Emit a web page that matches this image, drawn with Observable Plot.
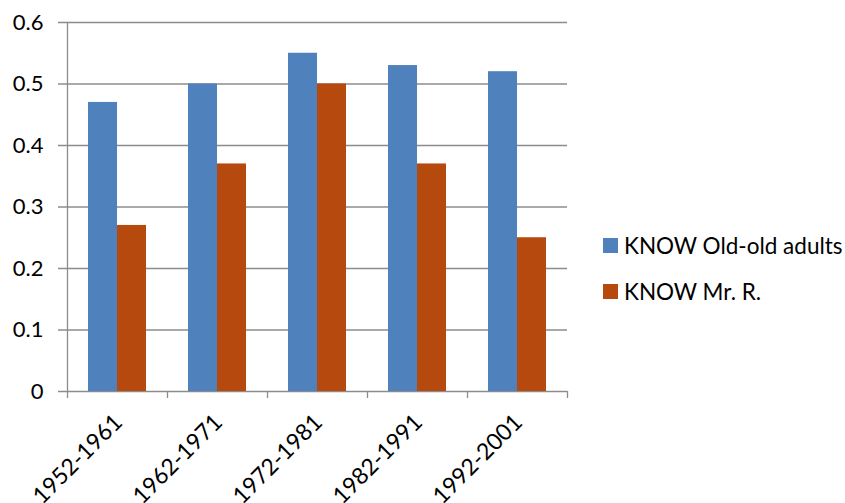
<!DOCTYPE html>
<html>
<head>
<meta charset="utf-8">
<script src="https://cdn.jsdelivr.net/npm/d3@7"></script>
<script src="https://cdn.jsdelivr.net/npm/@observablehq/plot@0.6"></script>
<style>
  body { margin: 0; background: #fff; }
  #wrap { position: relative; width: 845px; height: 503px; font-family: Lato, "Open Sans", sans-serif; }
  #legend { position: absolute; left: 603px; top: 232px; font-size: 22.5px; color: #000; }
  .item { display: flex; align-items: center; height: 26px; margin-bottom: 20px; }
  .swatch { width: 15px; height: 15px; margin-right: 6px; flex: none; }
</style>
</head>
<body>
<div id="wrap"><div id="legend"></div></div>
<script>
// Birth cohorts on the horizontal axis
const cohorts = ["1952-1961", "1962-1971", "1972-1981", "1982-1991", "1992-2001"];
// Series names and their values per cohort
const seriesNames = ["KNOW Old-old adults", "KNOW Mr. R."];
const oldOldAdults = [0.47, 0.50, 0.55, 0.53, 0.52];
const mrR = [0.27, 0.37, 0.50, 0.37, 0.25];
const yTicks = [0, 0.1, 0.2, 0.3, 0.4, 0.5, 0.6];
const colors = ["#4f81bd", "#b5490e"];

const width = 845, height = 503;
const marginLeft = 67, marginRight = 278, marginTop = 22, marginBottom = 112;
const bw = (width - marginLeft - marginRight) / cohorts.length;
const plotH = height - marginTop - marginBottom;
const pad = bw * 0.21, barW = (bw - 2 * pad) / 2;

const rows = [];
cohorts.forEach((c, i) => {
  rows.push({cohort: c, series: seriesNames[0], value: oldOldAdults[i]});
  rows.push({cohort: c, series: seriesNames[1], value: mrR[i]});
});

const grid = "#8c8c8c";
const fontSize = 22;

const chart = Plot.plot({
  width, height, marginLeft, marginRight, marginTop, marginBottom,
  style: {fontFamily: "Lato, 'Open Sans', sans-serif", background: "#fff"},
  x: {domain: cohorts, padding: 0, label: null},
  y: {domain: [0, 0.6], label: null},
  color: {domain: seriesNames, range: colors},
  marks: [
    Plot.ruleY(yTicks, {stroke: grid, strokeWidth: 1.3, insetLeft: -9}),
    Plot.ruleX([cohorts[0]], {stroke: grid, strokeWidth: 1.3, dx: -bw / 2}),
    Plot.ruleX(cohorts, {stroke: grid, strokeWidth: 1.3, dx: -bw / 2, insetTop: plotH, insetBottom: -7}),
    Plot.ruleX([cohorts[cohorts.length - 1]], {stroke: grid, strokeWidth: 1.3, dx: bw / 2, insetTop: plotH, insetBottom: -7}),
    Plot.barY(rows.filter(d => d.series === seriesNames[0]), {
      x: "cohort", y: "value", fill: "series", insetLeft: pad, insetRight: pad + barW
    }),
    Plot.barY(rows.filter(d => d.series === seriesNames[1]), {
      x: "cohort", y: "value", fill: "series", insetLeft: pad + barW, insetRight: pad
    }),
    Plot.axisY(yTicks, {
      tickSize: 0, tickPadding: 24, fontSize, fill: "#000", label: null,
      tickFormat: d => d === 0 ? "0" : d.toFixed(1)
    }),
    Plot.axisX({
      tickSize: 0, tickPadding: 27, tickRotate: -45, fontSize: 23, fill: "#000", dx: 1, label: null
    })
  ]
});
document.getElementById("wrap").prepend(chart);

const legend = document.getElementById("legend");
seriesNames.forEach((name, i) => {
  const item = document.createElement("div");
  item.className = "item";
  item.innerHTML = `<span class="swatch" style="background:${colors[i]}"></span><span>${name}</span>`;
  legend.appendChild(item);
});
</script>
</body>
</html>
